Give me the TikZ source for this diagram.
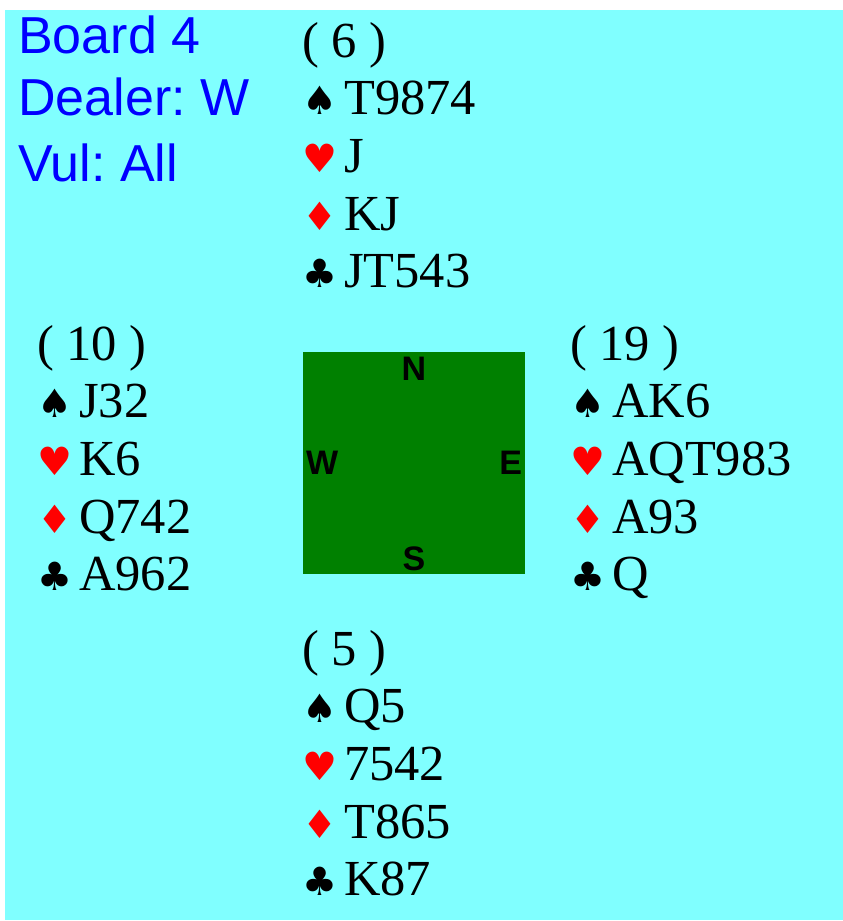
\documentclass[tikz,border=0pt]{standalone}
\usepackage{fontspec}
\setmainfont{Liberation Serif}
\newfontfamily\infofont{Liberation Sans}
\newfontfamily\suitfont{DejaVu Sans}
\usetikzlibrary{positioning}
\frenchspacing

\definecolor{tablecyan}{RGB}{128,255,255}
\definecolor{feltgreen}{RGB}{0,128,0}
\definecolor{infoblue}{RGB}{0,0,255}
\definecolor{suitred}{RGB}{255,0,0}

% suit symbol in a box of fixed width, holding follows
\newcommand{\suitbox}[2]{\makebox[42pt][l]{\suitfont\fontsize{39}{39}\selectfont\color{#2}#1}}

\tikzset{
  cards/.style={anchor=base west, inner sep=0pt, font=\fontsize{50.5}{58}\selectfont},
  info/.style={anchor=base west, inner sep=0pt, text=infoblue, font=\infofont\fontsize{52}{63}\selectfont},
  compass/.style={inner sep=0pt, font=\infofont\bfseries\fontsize{34}{40}\selectfont},
}

\begin{document}
\begin{tikzpicture}[x=1pt,y=-1pt]
\useasboundingbox (0,0) rectangle (843,921);
% Table background
\fill[tablecyan] (5,10) rectangle (843,920);
% Board info
\node[info] (board) at (18,53) {Board 4};
\node[info] (dealer) at (18,115) {Dealer: W};
\node[info] (vul) at (18,181) {Vul: All};
% Green square with compass letters
\node[fill=feltgreen, minimum size=222pt, inner sep=0pt] (felt) at (414,463) {};
\node[compass, below=5pt] (felt-n) at (felt.north) {N};
\node[compass, right=3pt] (felt-w) at (felt.west) {W};
\node[compass, left=3pt] (felt-e) at (felt.east) {E};
\node[compass, above=3pt] (felt-s) at (felt.south) {S};
% Hands: points in parentheses, then one line per suit
\foreach \hname/\hx/\hy/\hcp/\hs/\hh/\hd/\hc in {
    north/302/57/6/T9874/J/KJ/JT543,
    west/37/360/10/J32/K6/Q742/A962,
    east/570/360/19/AK6/AQT983/A93/Q,
    south/302/665/5/Q5/7542/T865/K87} {
  \node[cards] (\hname-hcp) at (\hx,\hy) {( \hcp\ )};
  \foreach \k/\sym/\col/\holding in {1/♠/black/\hs, 2/♥/suitred/\hh, 3/♦/suitred/\hd, 4/♣/black/\hc} {
    \node[cards] (\hname-\k) at (\hx,\hy+57.7*\k) {\suitbox{\sym}{\col}\holding};
  }
}
\end{tikzpicture}
\end{document}
